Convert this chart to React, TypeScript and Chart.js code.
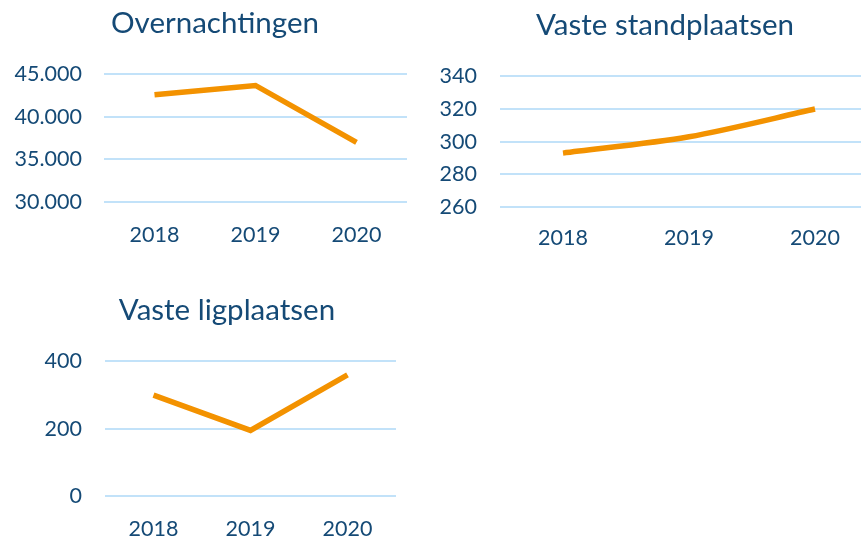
import React, { useEffect, useRef } from "react";
import { Chart, registerables } from "chart.js";

Chart.register(...registerables);

const years = ["2018", "2019", "2020"];
const overnachtingen = [42600, 43700, 37000];
const standplaatsen = [293, 303, 320];
const ligplaatsen = [300, 195, 360];

const titles = ["Overnachtingen", "Vaste standplaatsen", "Vaste ligplaatsen"];
const overRange = { min: 30000, max: 45000, step: 5000 };
const standRange = { min: 260, max: 340, step: 20 };
const ligRange = { min: 0, max: 400, step: 200 };

const FONT = "Lato, 'Open Sans', sans-serif";
const TEXT = "#154a76";
const LINE = "#f39200";
const GRID = "#c2e2f9";

function fmt(v: number) {
  return String(Math.round(v)).replace(/\B(?=(\d{3})+(?!\d))/g, ".");
}

type BoxProps = {
  left: number;
  top: number;
  width: number;
  height: number;
  title: string;
  values: number[];
  range: { min: number; max: number; step: number };
  yWidth: number;
  yPad: number;
  xHeight: number;
  xPad: number;
  rightSpace: number;
  titleTop: number;
  titleBottom: number;
  tension: number;
};

function LineBox(p: BoxProps) {
  const ref = useRef<HTMLCanvasElement | null>(null);
  useEffect(() => {
    if (!ref.current) return;
    const chart = new Chart(ref.current, {
      type: "line",
      data: {
        labels: years,
        datasets: [
          {
            data: p.values,
            borderColor: LINE,
            backgroundColor: LINE,
            borderWidth: 5.5,
            pointRadius: 0,
            tension: p.tension,
            fill: false,
            yAxisID: "y",
          },
        ],
      },
      options: {
        responsive: false,
        animation: false,
        layout: { padding: 0 },
        plugins: {
          legend: { display: false },
          tooltip: { enabled: false },
          title: {
            display: true,
            text: p.title,
            color: TEXT,
            font: { family: FONT, size: 29.5, weight: "normal" as any },
            padding: { top: p.titleTop, bottom: p.titleBottom },
          },
        },
        scales: {
          x: {
            offset: true,
            grid: { display: false },
            border: { display: false },
            ticks: {
              color: TEXT,
              font: { family: FONT, size: 21.5 },
              padding: p.xPad,
              maxRotation: 0,
            },
            afterFit: (s: any) => {
              s.height = p.xHeight;
            },
          },
          y: {
            position: "left",
            min: p.range.min,
            max: p.range.max,
            grid: { color: GRID, lineWidth: 2, drawTicks: false },
            border: { display: false },
            ticks: {
              stepSize: p.range.step,
              color: TEXT,
              font: { family: FONT, size: 21.5 },
              padding: p.yPad,
              callback: (v: any) => fmt(Number(v)),
            },
            afterFit: (s: any) => {
              s.width = p.yWidth;
            },
          },
          spacer: {
            type: "linear",
            position: "right",
            display: true,
            grid: { display: false, drawTicks: false },
            border: { display: false },
            ticks: { display: false },
            afterFit: (s: any) => {
              s.width = p.rightSpace;
            },
          },
        },
      },
    });
    return () => chart.destroy();
  }, []);
  return (
    <canvas
      ref={ref}
      width={p.width}
      height={p.height}
      style={{ position: "absolute", left: p.left, top: p.top, width: p.width, height: p.height }}
    />
  );
}

export default function App() {
  return (
    <div
      style={{
        position: "fixed",
        left: 0,
        top: 0,
        width: 861,
        height: 537,
        overflow: "hidden",
        background: "#ffffff",
      }}
    >
      <LineBox
        left={0}
        top={0}
        width={430}
        height={260}
        title={titles[0]}
        values={overnachtingen}
        range={overRange}
        yWidth={104}
        yPad={22}
        xHeight={58}
        xPad={12}
        rightSpace={23}
        titleTop={6}
        titleBottom={33}
        tension={0}
      />
      <LineBox
        left={420}
        top={0}
        width={490}
        height={260}
        title={titles[1]}
        values={standplaatsen}
        range={standRange}
        yWidth={80}
        yPad={23}
        xHeight={53}
        xPad={10}
        rightSpace={32}
        titleTop={8}
        titleBottom={33}
        tension={0.3}
      />
      <LineBox
        left={0}
        top={280}
        width={454}
        height={280}
        title={titles[2]}
        values={ligplaatsen}
        range={ligRange}
        yWidth={105}
        yPad={23}
        xHeight={64}
        xPad={12}
        rightSpace={58}
        titleTop={13}
        titleBottom={33}
        tension={0}
      />
    </div>
  );
}
